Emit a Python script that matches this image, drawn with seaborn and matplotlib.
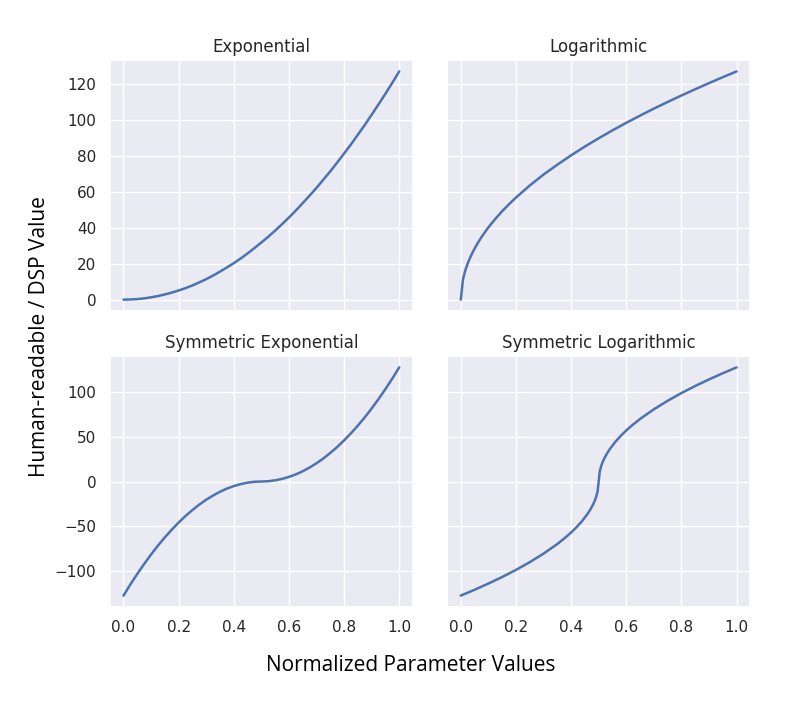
import numpy as np
import pandas as pd
import seaborn as sns
import matplotlib
matplotlib.use("Agg")
import matplotlib.pyplot as plt

# values
exp_x = [0.0, 0.025, 0.05, 0.075, 0.1, 0.125, 0.15, 0.175, 0.2, 0.225, 0.25,
         0.275, 0.3, 0.325, 0.35, 0.375, 0.4, 0.425, 0.45, 0.475, 0.5,
         0.525, 0.55, 0.575, 0.6, 0.625, 0.65, 0.675, 0.7, 0.725, 0.75,
         0.775, 0.8, 0.825, 0.85, 0.875, 0.9, 0.925, 0.95, 0.975, 1.0]
exp_y = [0.0, 0.1, 0.3, 0.7, 1.3, 2.0, 2.9, 3.9, 5.1, 6.4, 7.9,
         9.6, 11.4, 13.4, 15.6, 17.9, 20.3, 22.9, 25.7, 28.7, 31.8,
         35.0, 38.4, 42.0, 45.7, 49.6, 53.7, 57.9, 62.2, 66.8, 71.4,
         76.3, 81.3, 86.4, 91.8, 97.2, 102.9, 108.7, 114.6, 120.7, 127.0]

log_x = [0.0, 0.008, 0.016, 0.024, 0.032, 0.04, 0.05, 0.06, 0.075, 0.09, 0.1,
         0.125, 0.15, 0.175, 0.2, 0.25, 0.3, 0.35, 0.4, 0.45, 0.5, 0.55,
         0.6, 0.65, 0.7, 0.75, 0.8, 0.85, 0.9, 0.95, 1.0]
log_y = [0.0, 11.3, 16.1, 19.7, 22.7, 25.4, 28.4, 31.1, 34.8, 38.1, 40.2,
         44.9, 49.2, 53.1, 56.8, 63.5, 69.6, 75.1, 80.3, 85.2, 89.8, 94.2,
         98.4, 102.4, 106.3, 110.0, 113.6, 117.1, 120.5, 123.8, 127.0]

sexp_x = [0.0, 0.025, 0.05, 0.075, 0.1, 0.125, 0.15, 0.175, 0.2, 0.225, 0.25,
          0.275, 0.3, 0.325, 0.35, 0.375, 0.4, 0.425, 0.45, 0.475, 0.5,
          0.525, 0.55, 0.575, 0.6, 0.625, 0.65, 0.675, 0.7, 0.725, 0.75,
          0.775, 0.8, 0.825, 0.85, 0.875, 0.9, 0.925, 0.95, 0.975, 1.0]
sexp_y = [-127.0, -114.6, -102.9, -91.8, -81.3, -71.4, -62.2, -53.7, -45.7, -38.4, -31.8,
          -25.7, -20.3, -15.6, -11.4, -7.9, -5.1, -2.9, -1.3, -0.3, 0.0,
          0.3, 1.3, 2.9, 5.1, 7.9, 11.4, 15.6, 20.3, 25.7, 31.8,
          38.4, 45.7, 53.7, 62.2, 71.4, 81.3, 91.8, 102.9, 114.6, 127.0]

slog_x = [0.0, 0.05, 0.1, 0.15, 0.2, 0.25, 0.3, 0.35, 0.38, 0.4, 0.42, 0.44,
          0.46, 0.47, 0.48, 0.485, 0.49, 0.496, 0.504, 0.51, 0.515, 0.52,
          0.53, 0.54, 0.56, 0.58, 0.6, 0.62, 0.65, 0.7, 0.75, 0.8, 0.85,
          0.9, 0.95, 1.0]
slog_y = [-127.0, -120.5, -113.6, -106.3, -98.4, -89.8, -80.3, -69.6, -62.2, -56.8, -50.8, -44.0,
          -35.9, -31.1, -25.4, -22.0, -18.0, -11.3, 11.3, 18.0, 22.0, 25.4,
          31.1, 35.9, 44.0, 50.8, 56.8, 62.2, 69.6, 80.3, 89.8, 98.4, 106.3,
          113.6, 120.5, 127.0]

titles = ["Exponential", "Logarithmic", "Symmetric Exponential", "Symmetric Logarithmic"]
series = [(exp_x, exp_y), (log_x, log_y), (sexp_x, sexp_y), (slog_x, slog_y)]

sns.set_theme(style="darkgrid")

fig, axes = plt.subplots(2, 2, figsize=(7.89, 7.02), dpi=100, sharex=True, sharey="row")
fig.subplots_adjust(left=0.139, right=0.951, top=0.9145, bottom=0.1353,
                    wspace=0.112, hspace=0.179)

for ax, title, (xs, ys) in zip(axes.flat, titles, series):
    df = pd.DataFrame({"x": xs, "y": ys})
    sns.lineplot(data=df, x="x", y="y", ax=ax, color="#4c72b0", linewidth=1.8)
    ax.set_title(title, fontsize=12)
    ax.set_xlabel("")
    ax.set_ylabel("")

axes[0, 0].set_yticks([0, 20, 40, 60, 80, 100, 120])
axes[1, 0].set_yticks([-100, -50, 0, 50, 100])
axes[1, 0].set_xticks([0.0, 0.2, 0.4, 0.6, 0.8, 1.0])

fig.text(0.52, 0.052, "Normalized Parameter Values", ha="center", va="center",
         fontsize=15, family="Open Sans", color="black")
fig.text(0.05, 0.52, "Human-readable / DSP Value", ha="center", va="center",
         rotation=90, fontsize=15, family="Open Sans", color="black")

fig.savefig("out.png", dpi=100)
